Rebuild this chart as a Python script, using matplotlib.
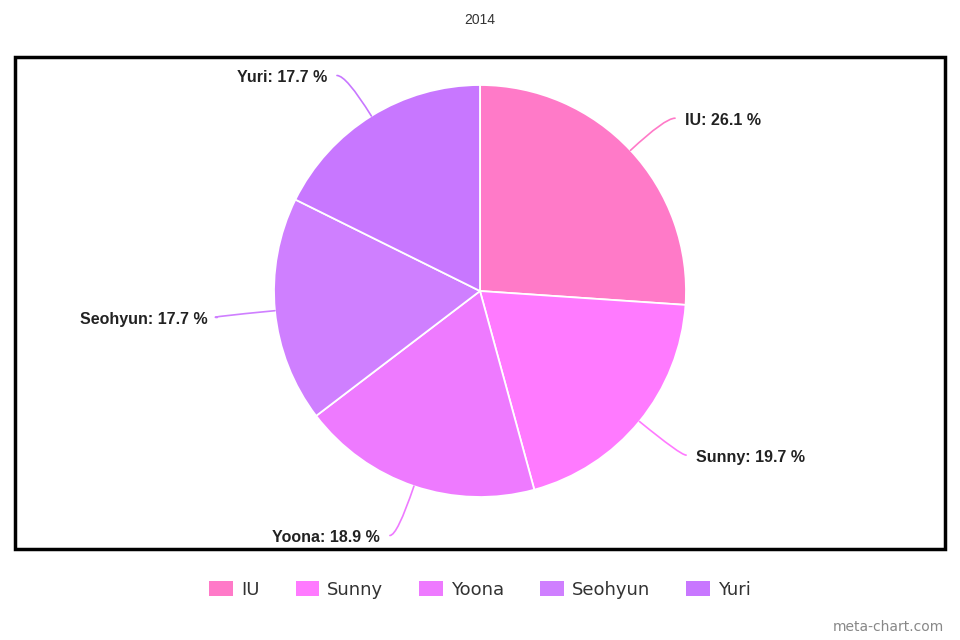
import numpy as np
import matplotlib
matplotlib.use("Agg")
import matplotlib.pyplot as plt
from matplotlib.patches import Patch, Rectangle

plt.rcParams['font.family'] = ['Liberation Sans', 'DejaVu Sans']

title = "2014"
names = ["IU", "Sunny", "Yoona", "Seohyun", "Yuri"]
shares = [26.1, 19.7, 18.9, 17.7, 17.7]
colors = ["#ff7ac8", "#ff7aff", "#ee7aff", "#cf7fff", "#c877ff"]

W, H = 960, 640
fig = plt.figure(figsize=(W / 100, H / 100), dpi=100)
ax = fig.add_axes([0, 0, 1, 1])

cx, cy, r = 480, H - 291, 206
wedges, _ = ax.pie(shares, colors=colors, startangle=90, counterclock=False,
                   center=(cx, cy), radius=r,
                   wedgeprops=dict(edgecolor="white", linewidth=1.3))
ax.set_xlim(0, W)
ax.set_ylim(0, H)
ax.set_aspect("equal")
ax.axis("off")

# frame around plot area
ax.add_patch(Rectangle((15, H - 549), 930, 492, fill=False, edgecolor="black",
                       linewidth=2.5))

# outside labels with curved leaders
total = sum(shares)
start = 0.0
for name, val, col in zip(names, shares, colors):
    mid_cw = (start + val / 2) / total * 360
    start += val
    mid = np.deg2rad(mid_cw)
    sx, sy = np.sin(mid), np.cos(mid)
    p0 = (cx + r * sx, cy + r * sy)
    side = 1 if sx > 0 else -1
    p1 = (cx + (r + 50) * sx + side * 8, cy + (r + 50) * sy - 2)
    ang = 90 - mid_cw
    ax.annotate("", xy=p0, xytext=p1,
                arrowprops=dict(arrowstyle="-", color=col, lw=1.2,
                                shrinkA=0, shrinkB=0,
                                connectionstyle=f"angle3,angleA=0,angleB={ang}"))
    ax.text(p1[0] + side * 10, p1[1] - 2, f"{name}: {val:.1f} %",
            ha="left" if side > 0 else "right", va="center",
            fontsize=11.5, fontweight="bold", color="#222222")

fig.text(0.5, 1 - 20 / H, title, ha="center", va="center", fontsize=10,
         color="#333333")

handles = [Patch(facecolor=c, edgecolor="none") for c in colors]
fig.legend(handles, names, loc="center", bbox_to_anchor=(0.5, 1 - 590 / H),
           ncol=5, frameon=False, handlelength=1.3,
           handleheight=0.9, columnspacing=2.0, handletextpad=0.45,
           prop={"family": "DejaVu Sans", "size": 13})
for t in fig.legends[0].get_texts():
    t.set_color("#333333")

fig.text(1 - 16 / W, 1 - 627 / H, "meta-chart.com", ha="right", va="center",
         fontsize=10, color="#888888", family="DejaVu Sans")

fig.savefig("out.png", dpi=100)
